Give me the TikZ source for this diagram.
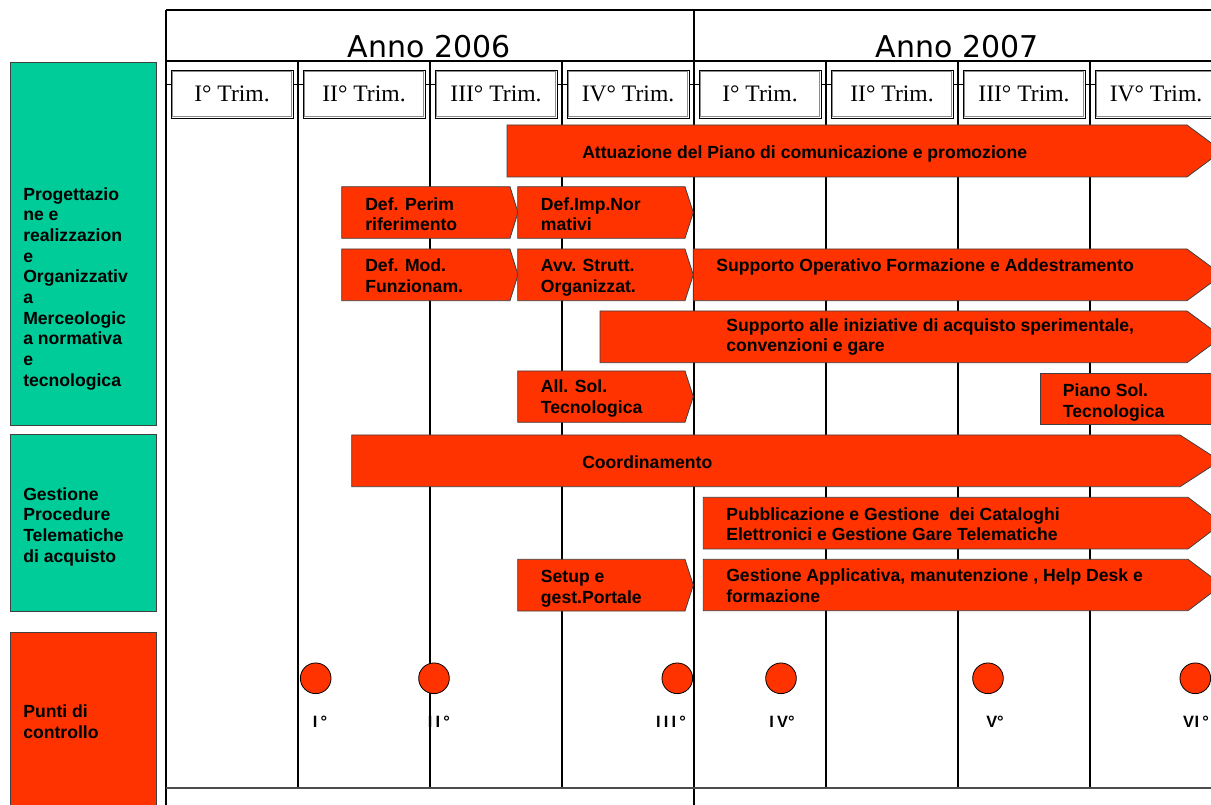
\documentclass[tikz,border=0pt]{standalone}
\usepackage{fontspec}
\newfontfamily\barfont{Liberation Sans}
\newfontfamily\annofont{DejaVu Sans}
\newfontfamily\trimfont{Liberation Serif}
\definecolor{barred}{RGB}{255,51,0}
\definecolor{lanegreen}{RGB}{0,204,153}
\newcommand{\arrbar}[5]{\draw[barshape] (#1,#2) -- (#4,#2) -- (#5,{(#2+#3)/2}) -- (#4,#3) -- (#1,#3) -- cycle;}
\newcommand{\msk}{\kern2.4pt}
\tikzset{
  gridline/.style={black, line width=0.9pt},
  barshape/.style={fill=barred, draw=black!75, line width=0.6pt},
  bartext/.style={font=\barfont\bfseries\fontsize{13.2}{15.5}\selectfont, anchor=base west, inner sep=0pt, align=left},
  lanebox/.style={draw=black!75, line width=0.6pt},
  trimbox/.style={draw=black, line width=0.6pt, fill=white, minimum width=91.5pt, minimum height=36pt, inner sep=0pt,
     font=\trimfont\fontsize{17.7}{20}\selectfont},
  annotext/.style={font=\annofont\fontsize{22.5}{26}\selectfont, anchor=base, inner sep=0pt},
  msdot/.style={circle, fill=barred, draw=black, line width=0.6pt, minimum size=23pt, inner sep=0pt},
  mstext/.style={font=\barfont\bfseries\fontsize{12.3}{14}\selectfont, anchor=base, inner sep=0pt}
}
\begin{document}
\begin{tikzpicture}[x=0.75pt,y=-0.75pt]
\useasboundingbox (0,0) rectangle (1211,805);
\clip (0,0) rectangle (1211,805);
\fill[white] (0,0) rectangle (1211,805);

% grid
\draw[gridline] (166,10) -- (1215,10);
\draw[gridline] (166,61) -- (1215,61);
\draw[black, line width=0.6pt] (166,84) -- (1215,84);
\draw[gridline] (166,10) -- (166,808);
\draw[gridline] (694,10) -- (694,808);
\foreach \x in {298,430,562,826,958,1090} \draw[gridline] (\x,61) -- (\x,788);
\draw[black!70, line width=0.9pt] (166,788) -- (1215,788);

% years
\node[annotext] (y2006) at (429,57.5) {Anno 2006};
\node[annotext] (y2007) at (957,57.5) {Anno 2007};

% quarter boxes
\foreach \k/\t in {0/I,1/II,2/III,3/IV,4/I,5/II,6/III,7/IV} {
  \node[trimbox] (q\k) at ({232+132*\k},94) {\t° Trim.};
  \draw[black!45, line width=0.5pt] ([shift={(1.6,1.6)}]q\k.north west) rectangle ([shift={(-1.6,-1.6)}]q\k.south east);
}

% lanes (base anchor = baseline of the last line)
\draw[lanebox, fill=lanegreen] (10,62.5) rectangle (156,425.5);
\draw[lanebox, fill=lanegreen] (10,434.5) rectangle (156,611.5);
\draw[lanebox, fill=barred] (10,632.5) rectangle (156,810);
\node[bartext] (lane1) at (23,386.3) {Progettazio\\ne e\\realizzazion\\e\\Organizzativ\\a\\Merceologic\\a normativa\\e\\tecnologica};
\node[bartext] (lane2) at (23,562) {Gestione\\Procedure\\Telematiche\\di acquisto};
\node[bartext] (lane3) at (23,738.4) {Punti di\\controllo};

% bars
\arrbar{507}{125}{177}{1187}{1222}
\node[bartext] (b1) at (582,158.5) {Attuazione del Piano di comunicazione e promozione};

\arrbar{341.7}{186.7}{238.3}{510}{518}
\node[bartext] (b2) at (365,230.7) {Def. Perim\\riferimento};
\arrbar{517.7}{186.7}{238.3}{685}{693.3}
\node[bartext] (b3) at (540.7,230.7) {Def.Imp.Nor\\mativi};

\arrbar{341.7}{249}{300.7}{510}{518}
\node[bartext] (b4) at (365,292.4) {Def. Mod.\\Funzionam.};
\arrbar{517.7}{249}{300.7}{685}{693.3}
\node[bartext] (b5) at (540.7,292.4) {Avv. Strutt.\\Organizzat.};
\arrbar{693.3}{249}{300.7}{1187}{1222}
\node[bartext] (b6) at (716,271.7) {Supporto Operativo Formazione e Addestramento};

\arrbar{600}{311}{362.7}{1187}{1222}
\node[bartext] (b7) at (726,352) {Supporto alle iniziative di acquisto sperimentale,\\convenzioni e gare};

\arrbar{517.7}{371}{422.3}{685}{693.3}
\node[bartext] (b8) at (540.7,413.4) {All. Sol.\\Tecnologica};
\draw[barshape] (1040,373.3) rectangle (1230,424.3);
\node[bartext] (b9) at (1062.7,417.4) {Piano Sol.\\Tecnologica};

\arrbar{351.7}{435}{486.7}{1180}{1220}
\node[bartext] (b10) at (582,469) {Coordinamento};

\arrbar{703.3}{497.3}{549}{1188}{1222}
\node[bartext] (b11) at (726,541) {Pubblicazione e Gestione\ \ dei Cataloghi\\Elettronici e Gestione Gare Telematiche};

\arrbar{517.7}{559.3}{611}{685}{693.3}
\node[bartext] (b12) at (540.7,603) {Setup e\\gest.Portale};
\arrbar{703.3}{559.3}{610.7}{1188}{1222}
\node[bartext] (b13) at (726,602.4) {Gestione Applicativa, manutenzione , Help Desk e\\formazione};

% milestones
\foreach \i/\x in {1/315.7,2/434,3/677.3,4/781,5/988,6/1195.3} \node[msdot] (m\i) at (\x,678.3) {};
\node[mstext] (l1) at (320,727) {I\msk°};
\node[mstext] (l2) at (439,727) {I\msk I\msk°};
\node[mstext] (l3) at (671,727) {I\msk I\msk I\msk°};
\node[mstext] (l4) at (782,727) {I\msk V°};
\node[mstext] (l5) at (995,727) {V°};
\node[mstext] (l6) at (1196,727) {V\kern0.5pt I\msk°};
\end{tikzpicture}
\end{document}
